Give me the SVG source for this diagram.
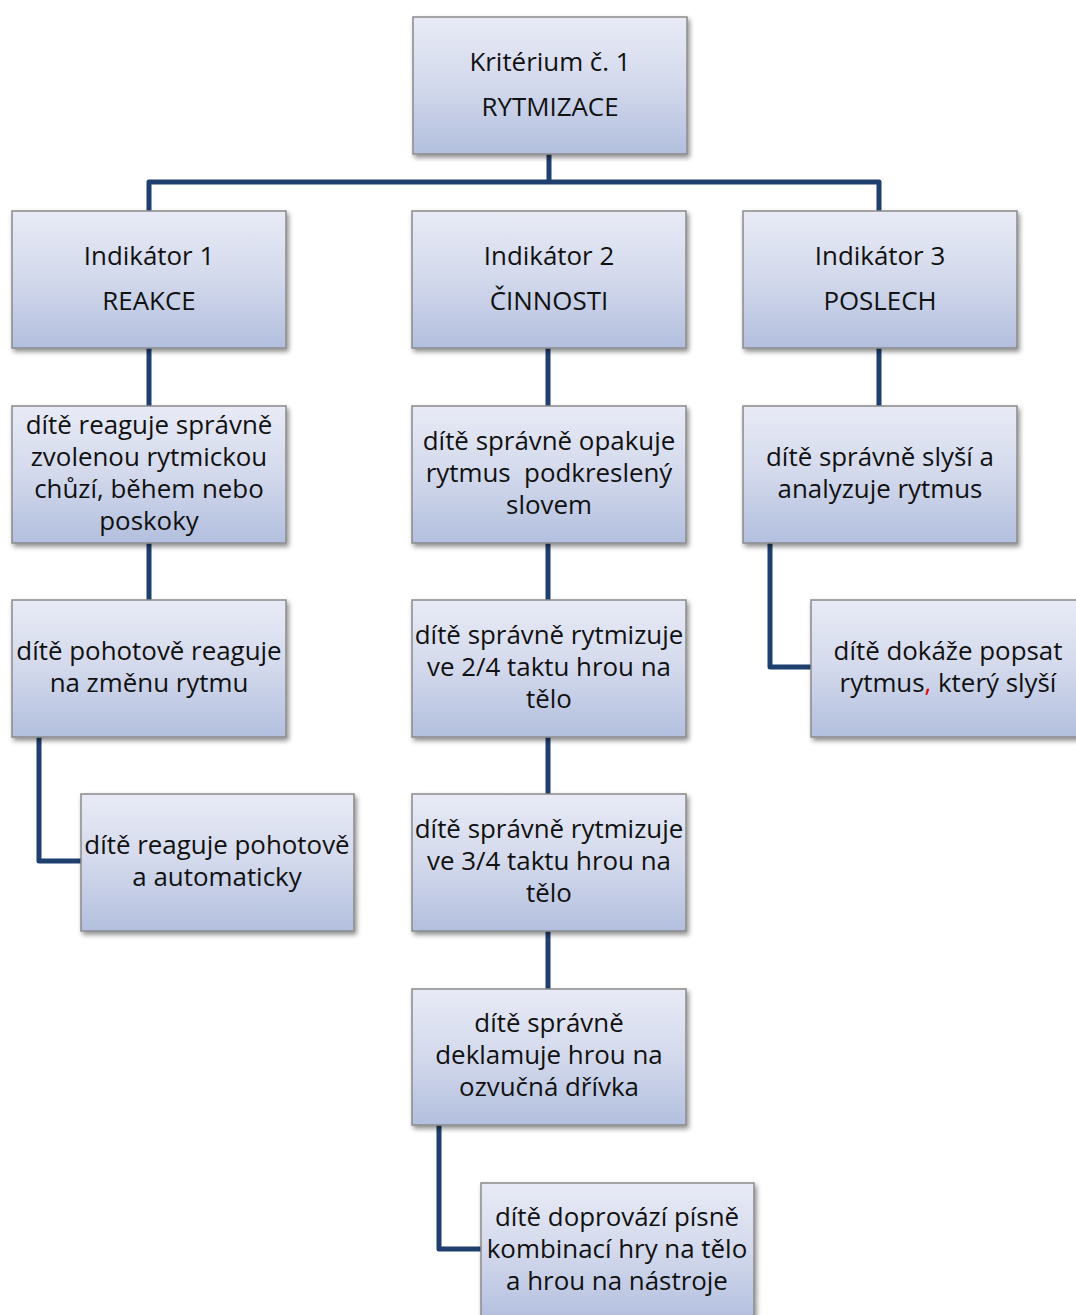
<svg xmlns="http://www.w3.org/2000/svg" width="1076" height="1315" viewBox="0 0 1076 1315">
<style>
.box{fill:url(#g);stroke:#8a8a8a;stroke-width:1.5;filter:url(#sh)}
.t{font-family:"Open Sans",Lato,"Liberation Sans",sans-serif;font-size:25.9px;fill:#111;text-anchor:middle}
.c{fill:none;stroke:#1f3f6e;stroke-width:5;stroke-linejoin:round}
</style>
<defs>
<linearGradient id="g" x1="0" y1="0" x2="0" y2="1">
<stop offset="0" stop-color="#e8ebf6"/>
<stop offset="0.5" stop-color="#d3d9ec"/>
<stop offset="1" stop-color="#b2bfde"/>
</linearGradient>
<filter id="sh" x="-10%" y="-10%" width="125%" height="130%">
<feGaussianBlur in="SourceAlpha" stdDeviation="2.5"/>
<feOffset dx="2" dy="3" result="b"/>
<feComponentTransfer><feFuncA type="linear" slope="0.45"/></feComponentTransfer>
<feMerge><feMergeNode/><feMergeNode in="SourceGraphic"/></feMerge>
</filter>
</defs>
<g id="connectors">
<path class="c" d="M549 154V182M149 211V182H879V211"/>
<path class="c" d="M149 348V406M548 348V406M879 348V406"/>
<path class="c" d="M149 543V600M548 543V600"/>
<path class="c" d="M770 543V667H811"/>
<path class="c" d="M39 737V861H81"/>
<path class="c" d="M548 737V794M548 931V989"/>
<path class="c" d="M439 1125V1249H481"/>
</g>
<g id="n0"><rect class="box" x="413" y="17" width="274" height="137"/>
<text class="t" x="550" y="71">Kritérium č. 1</text><text class="t" x="550" y="116">RYTMIZACE</text></g>
<g id="i1"><rect class="box" x="12" y="211" width="274" height="137"/>
<text class="t" x="149" y="265">Indikátor 1</text><text class="t" x="149" y="310">REAKCE</text></g>
<g id="i2"><rect class="box" x="412" y="211" width="274" height="137"/>
<text class="t" x="549" y="265">Indikátor 2</text><text class="t" x="549" y="310">ČINNOSTI</text></g>
<g id="i3"><rect class="box" x="743" y="211" width="274" height="137"/>
<text class="t" x="880" y="265">Indikátor 3</text><text class="t" x="880" y="310">POSLECH</text></g>
<g id="a1"><rect class="box" x="12" y="406" width="274" height="137"/>
<text class="t" x="149" y="434">dítě reaguje správně</text><text class="t" x="149" y="466">zvolenou rytmickou</text><text class="t" x="149" y="498">chůzí, během nebo</text><text class="t" x="149" y="530">poskoky</text></g>
<g id="b1"><rect class="box" x="412" y="406" width="274" height="137"/>
<text class="t" x="549" y="450">dítě správně opakuje</text><text class="t" x="549" y="482" xml:space="preserve">rytmus  podkreslený</text><text class="t" x="549" y="514">slovem</text></g>
<g id="c1"><rect class="box" x="743" y="406" width="274" height="137"/>
<text class="t" x="880" y="466">dítě správně slyší a</text><text class="t" x="880" y="498">analyzuje rytmus</text></g>
<g id="a2"><rect class="box" x="12" y="600" width="274" height="137"/>
<text class="t" x="149" y="660">dítě pohotově reaguje</text><text class="t" x="149" y="692">na změnu rytmu</text></g>
<g id="b2"><rect class="box" x="412" y="600" width="274" height="137"/>
<text class="t" x="549" y="644">dítě správně rytmizuje</text><text class="t" x="549" y="676">ve 2/4 taktu hrou na</text><text class="t" x="549" y="708">tělo</text></g>
<g id="c2"><rect class="box" x="811" y="600" width="274" height="137"/>
<text class="t" x="948" y="660">dítě dokáže popsat</text><text class="t" x="948" y="692">rytmus<tspan fill="#e00000">,</tspan> který slyší</text></g>
<g id="a3"><rect class="box" x="81" y="794" width="273" height="137"/>
<text class="t" x="217" y="854">dítě reaguje pohotově</text><text class="t" x="217" y="886">a automaticky</text></g>
<g id="b3"><rect class="box" x="412" y="794" width="274" height="137"/>
<text class="t" x="549" y="838">dítě správně rytmizuje</text><text class="t" x="549" y="870">ve 3/4 taktu hrou na</text><text class="t" x="549" y="902">tělo</text></g>
<g id="b4"><rect class="box" x="412" y="989" width="274" height="136"/>
<text class="t" x="549" y="1032">dítě správně</text><text class="t" x="549" y="1064">deklamuje hrou na</text><text class="t" x="549" y="1096">ozvučná dřívka</text></g>
<g id="b5"><rect class="box" x="481" y="1183" width="273" height="137"/>
<text class="t" x="617" y="1226">dítě doprovází písně</text><text class="t" x="617" y="1258">kombinací hry na tělo</text><text class="t" x="617" y="1290">a hrou na nástroje</text></g>
</svg>
